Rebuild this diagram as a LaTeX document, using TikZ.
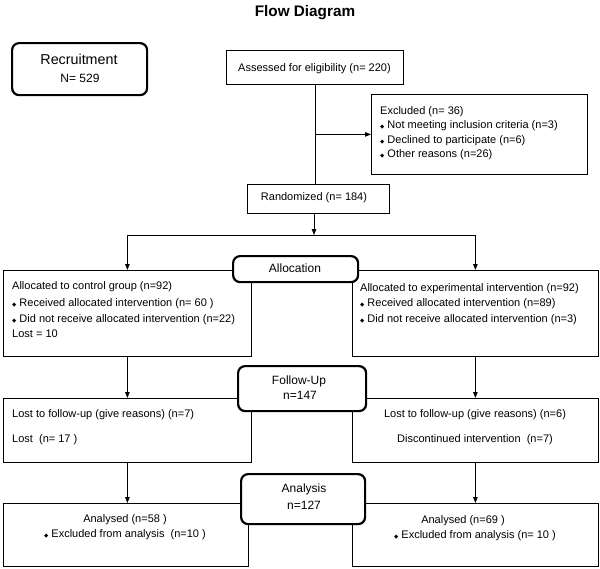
\documentclass[tikz,border=0pt]{standalone}
\usepackage{fontspec}
\setmainfont{Liberation Sans}
\newfontfamily\dejavu{DejaVu Sans}
\usetikzlibrary{arrows.meta}
\newcommand\bul{{\dejavu\fontsize{5.5}{6}\selectfont ◆}}
\begin{document}
\begin{tikzpicture}[x=1pt,y=-1pt,
  box/.style={draw,line width=0.8pt,fill=white,inner sep=0pt,anchor=north west},
  rbox/.style={draw,line width=2.2pt,rounded corners=7pt,fill=white,inner sep=0pt,anchor=north west},
  txt/.style={inner sep=0pt,text height=8pt,text depth=0pt,font=\fontsize{11}{13}\selectfont},
  big/.style={inner sep=0pt,text height=8.7pt,text depth=0pt,font=\fontsize{12}{14}\selectfont},
  arr/.style={-{Triangle[length=6pt,width=4.5pt]},line width=0.8pt},
  conn/.style={line width=0.8pt}
]
\useasboundingbox (0,0) rectangle (600,568);
% plain boxes
\node[box,minimum width=177pt,minimum height=34pt] (assess) at (226,50) {};
\node[box,minimum width=216pt,minimum height=80pt] (excl) at (371,94) {};
\node[box,minimum width=142pt,minimum height=29pt] (rand) at (247,184) {};
\node[box,minimum width=248pt,minimum height=86pt] (ctrl) at (3,270) {};
\node[box,minimum width=246pt,minimum height=86pt] (exp) at (352,270) {};
\node[box,minimum width=248pt,minimum height=64pt] (lostL) at (3,398) {};
\node[box,minimum width=246pt,minimum height=64pt] (lostR) at (352,398) {};
\node[box,minimum width=245pt,minimum height=63pt] (anaL) at (3,503) {};
\node[box,minimum width=246pt,minimum height=63pt] (anaR) at (352,503) {};
% rounded boxes
\node[rbox,minimum width=135pt,minimum height=52pt] (recruit) at (11,42) {};
\node[rbox,minimum width=125pt,minimum height=26pt] (alloc) at (232,255) {};
\node[rbox,minimum width=128pt,minimum height=45pt] (follow) at (237,365) {};
\node[rbox,minimum width=124pt,minimum height=50pt] (analysis) at (240,473) {};
% connectors
\draw[conn] (assess.south) -- (assess.south |- rand.north);
\draw[arr] (assess.south |- excl.west) -- (excl.west);
\coordinate (split) at (314,235);
\draw[arr] (rand.south -| split) -- (split);
\draw[conn] (ctrl.north |- split) -- (exp.north |- split);
\draw[arr] (ctrl.north |- split) -- (ctrl.north);
\draw[arr] (exp.north |- split) -- (exp.north);
\draw[arr] (ctrl.south) -- (lostL.north);
\draw[arr] (exp.south) -- (lostR.north);
\draw[arr] (lostL.south) -- (lostL.south |- anaL.north);
\draw[arr] (lostR.south) -- (lostR.south |- anaR.north);
% texts
\node[inner sep=0pt,font=\bfseries\fontsize{15.3}{18}\selectfont,text height=11pt,text depth=0pt] (title) at (305,11) {Flow Diagram};
\node[inner sep=0pt,font=\fontsize{14.3}{16}\selectfont,text height=10.3pt,text depth=0pt] (t1) at (79,59) {Recruitment};
\node[big] (t2) at (80,78) {N= 529};
\node[txt] (t3) at (314.5,67) {Assessed for eligibility (n= 220)};
\node[txt,anchor=west] (t4) at (380,110) {Excluded (n= 36)};
\node[txt,anchor=west] (t5) at (380,124.5) {\bul\ Not meeting inclusion criteria (n=3)};
\node[txt,anchor=west] (t6) at (380,139) {\bul\ Declined to participate (n=6)};
\node[txt,anchor=west] (t7) at (380,153.5) {\bul\ Other reasons (n=26)};
\node[txt] (t8) at (314,196) {Randomized (n= 184)};
\node[big] (t9) at (295,268) {Allocation};
\node[txt,anchor=west] (t10) at (12,285) {Allocated to control group (n=92)};
\node[txt,anchor=west] (t11) at (12,302) {\bul\ Received allocated intervention (n= 60 )};
\node[txt,anchor=west] (t12) at (12,318) {\bul\ Did not receive allocated intervention (n=22)};
\node[txt,anchor=west] (t13) at (12,333) {Lost = 10};
\node[txt,anchor=west] (t14) at (360,287) {Allocated to experimental intervention (n=92)};
\node[txt,anchor=west] (t15) at (360,302) {\bul\ Received allocated intervention (n=89)};
\node[txt,anchor=west] (t16) at (360,318) {\bul\ Did not receive allocated intervention (n=3)};
\node[big] (t17) at (299,380) {Follow-Up};
\node[big] (t18) at (300,395) {n=147};
\node[txt,anchor=west] (t19) at (12,413) {Lost to follow-up (give reasons) (n=7)};
\node[txt,anchor=west] (t20) at (12,438) {Lost\ \ (n= 17 )};
\node[txt] (t21) at (475,413) {Lost to follow-up (give reasons) (n=6)};
\node[txt] (t22) at (475,438) {Discontinued intervention\ \ (n=7)};
\node[big] (t23) at (304,488) {Analysis};
\node[big] (t24) at (304,505) {n=127};
\node[txt] (t25) at (125,518) {Analysed (n=58 )};
\node[txt] (t26) at (125,533) {\bul\ Excluded from analysis\ \ (n=10 )};
\node[txt] (t27) at (463,519) {Analysed (n=69 )};
\node[txt] (t28) at (475,534) {\bul\ Excluded from analysis (n= 10 )};
\end{tikzpicture}
\end{document}
